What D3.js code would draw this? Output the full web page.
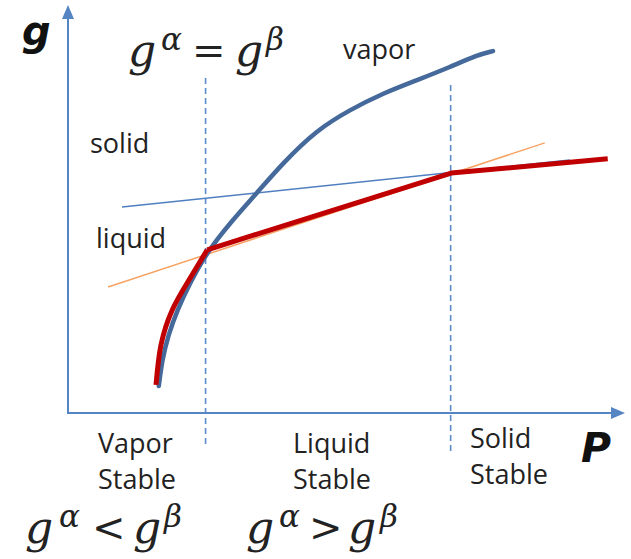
<!DOCTYPE html>
<html>
<head>
<meta charset="utf-8">
<script src="https://cdn.jsdelivr.net/npm/d3@7"></script>
<style>
  html, body { margin: 0; padding: 0; background: #fff; }
  svg { display: block; }
  .lbl { font-family: "Open Sans", "Noto Sans", sans-serif; font-size: 27px; fill: #222; }
  .math { font-family: "DejaVu Serif", serif; font-style: italic; fill: #222; }
  .op { font-family: "DejaVu Serif", serif; font-style: normal; fill: #222; }
  .axlbl { font-family: "DejaVu Sans", sans-serif; font-weight: bold; font-style: italic; fill: #111; }
</style>
</head>
<body>
<script>
// Free energy g versus pressure P for three phases (schematic)
const W = 631, H = 559;

// vapor phase g(P): steep, concave curve
const vaporCurve = [
  [1.63, 0.66], [1.69, 1.30], [1.80, 1.91], [1.96, 2.52], [2.19, 3.19],
  [2.50, 3.95], [2.91, 4.66], [3.39, 5.39], [3.86, 6.13], [4.47, 6.94],
  [5.06, 7.43], [5.66, 7.84], [6.27, 8.16], [6.86, 8.48], [7.34, 8.77],
  [7.63, 8.87]
];
// liquid phase g(P): straight line
const liquidLine = [[0.72, 3.09], [8.56, 6.62]];
// solid phase g(P): straight line, shallower slope
const solidLine = [[0.97, 5.05], [9.01, 6.20]];
// lowest g (stable phase): vapor branch, then liquid, then solid
const stableVapor = [[1.58, 0.69], [1.67, 1.67], [1.87, 2.52], [2.15, 3.21], [2.50, 4.00]];
const stableLinear = [[2.50, 4.00], [6.88, 5.88], [9.69, 6.23]];
// transition pressures (g^alpha = g^beta)
const transitions = [2.47, 6.87];
const transitionSpan = [[8.21, -0.78], [8.04, -0.96]];

const x = d3.scaleLinear().domain([0, 10]).range([68, 625]);
const y = d3.scaleLinear().domain([0, 10]).range([413, 5]);

const svg = d3.select("body").append("svg").attr("width", W).attr("height", H);

const axisColor = "#5585C2";

// dashed transition markers
svg.selectAll("line.trans").data(transitions).enter().append("line")
  .attr("class", "trans")
  .attr("x1", d => x(d)).attr("x2", d => x(d))
  .attr("y1", (d, i) => y(transitionSpan[i][0]))
  .attr("y2", (d, i) => y(transitionSpan[i][1]))
  .attr("stroke", "#5B8BC9").attr("stroke-width", 1.6)
  .attr("stroke-dasharray", "6,4");

// axes with arrow heads
svg.append("line").attr("x1", x(0)).attr("x2", x(0)).attr("y1", y(0)).attr("y2", y(10) + 10)
  .attr("stroke", axisColor).attr("stroke-width", 2);
svg.append("line").attr("x1", x(0) - 1).attr("x2", x(10) - 10).attr("y1", y(0)).attr("y2", y(0))
  .attr("stroke", axisColor).attr("stroke-width", 2);
svg.append("path")
  .attr("d", `M${x(0)},${y(10)} L${x(0) - 6},${y(10) + 14} L${x(0) + 6},${y(10) + 14} Z`)
  .attr("fill", axisColor);
svg.append("path")
  .attr("d", `M${x(10)},${y(0)} L${x(10) - 14},${y(0) - 6} L${x(10) - 14},${y(0) + 6} Z`)
  .attr("fill", axisColor);

const lin = d3.line().x(d => x(d[0])).y(d => y(d[1]));
const smooth = d3.line().x(d => x(d[0])).y(d => y(d[1])).curve(d3.curveBasis);
const natural = d3.line().x(d => x(d[0])).y(d => y(d[1])).curve(d3.curveNatural);

// thin phase lines
svg.append("path").attr("d", lin(solidLine)).attr("fill", "none")
  .attr("stroke", "#4F7FC0").attr("stroke-width", 1.5);
svg.append("path").attr("d", lin(liquidLine)).attr("fill", "none")
  .attr("stroke", "#F6A465").attr("stroke-width", 1.5);

// vapor curve
svg.append("path").attr("d", smooth(vaporCurve)).attr("fill", "none")
  .attr("stroke", "#44699A").attr("stroke-width", 4.5).attr("stroke-linecap", "round");

// stable branch
svg.append("path").attr("d", natural(stableVapor)).attr("fill", "none")
  .attr("stroke", "#C00000").attr("stroke-width", 5).attr("stroke-linecap", "butt");
svg.append("path").attr("d", lin(stableLinear)).attr("fill", "none")
  .attr("stroke", "#C00000").attr("stroke-width", 5).attr("stroke-linejoin", "round")
  .attr("stroke-linecap", "butt");

// axis titles
svg.append("text").attr("class", "axlbl").attr("x", 22).attr("y", 45).attr("font-size", 40).text("g");
svg.append("text").attr("class", "axlbl").attr("x", 581).attr("y", 462).attr("font-size", 41).text("P");

// phase names
svg.append("text").attr("class", "lbl").attr("x", 343).attr("y", 59).text("vapor");
svg.append("text").attr("class", "lbl").attr("x", 90).attr("y", 153).text("solid");
svg.append("text").attr("class", "lbl").attr("x", 96).attr("y", 248).text("liquid");

// stability regions
const regions = [
  { x: 98, y: 453, lines: ["Vapor", "Stable"] },
  { x: 293, y: 453, lines: ["Liquid", "Stable"] },
  { x: 470, y: 448, lines: ["Solid", "Stable"] }
];
regions.forEach(r => {
  const t = svg.append("text").attr("class", "lbl").attr("x", r.x).attr("y", r.y);
  r.lines.forEach((s, i) => t.append("tspan").attr("x", r.x).attr("dy", i ? 36 : 0).text(s));
});

// relations between g of the two phases
function relation(x0, base, op, pos) {
  const g = svg.append("g");
  g.append("text").attr("class", "math").attr("x", x0 + pos[0]).attr("y", base).attr("font-size", 44).text("g");
  g.append("text").attr("class", "math").attr("x", x0 + pos[1]).attr("y", base - 16).attr("font-size", 31).text("α");
  g.append("text").attr("class", "op").attr("x", x0 + pos[2]).attr("y", base - 2).attr("font-size", 40)
    .attr("font-weight", 300).text(op);
  g.append("text").attr("class", "math").attr("x", x0 + pos[3]).attr("y", base).attr("font-size", 44).text("g");
  g.append("text").attr("class", "math").attr("x", x0 + pos[4]).attr("y", base - 16).attr("font-size", 31).text("β");
}
relation(128, 66, "=", [0, 33, 64, 107, 138]);
relation(25, 543, "<", [0, 34, 67, 108, 139]);
relation(246, 543, ">", [0, 33, 63, 102, 134]);
</script>
</body>
</html>
